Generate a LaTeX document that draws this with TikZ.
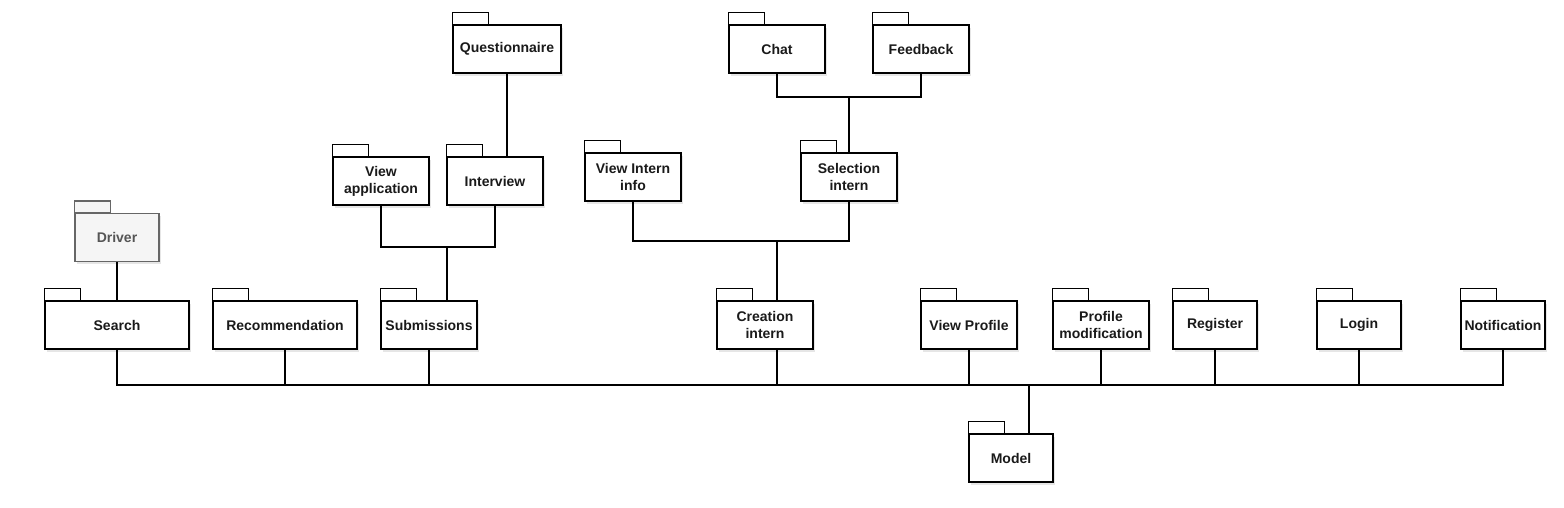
\documentclass[tikz,border=0pt]{standalone}
\usepackage{fontspec}
\setmainfont{Liberation Sans}
\usetikzlibrary{shadows,calc}
\definecolor{txt}{HTML}{1A1A1A}
\definecolor{drvfill}{HTML}{F5F5F5}
\definecolor{drvline}{HTML}{666666}
\definecolor{drvtxt}{HTML}{555555}
\begin{document}
\begin{tikzpicture}[x=1pt,y=-1pt,
  pkg/.style={draw=black, line width=1.1pt, fill=white, minimum height=48pt,
    inner xsep=1pt, inner ysep=2pt, align=center, text=txt,
    font=\bfseries\fontsize{14}{17}\selectfont,
    drop shadow={shadow xshift=2pt, shadow yshift=-2.5pt, opacity=0.2}},
  drv/.style={pkg, draw=drvline, fill=drvfill, text=drvtxt},
  tabbox/.style={draw=black, line width=1.1pt, fill=white},
  drvtab/.style={draw=drvline, line width=1.1pt, fill=drvfill},
  conn/.style={draw=black, line width=1.1pt}]
\useasboundingbox (0,0) rectangle (1564,507);

% packages
\node[drv, minimum width=84pt] (driver) at (117,237.5) {Driver};
\node[pkg, minimum width=144pt] (search) at (117,325) {Search};
\node[pkg, minimum width=144pt] (recommendation) at (285,325) {Recommendation};
\node[pkg, minimum width=96pt] (submissions) at (429,325) {Submissions};
\node[pkg, minimum width=96pt] (creation) at (765,325) {Creation\\intern};
\node[pkg, minimum width=96pt] (viewprofile) at (969,325) {View Profile};
\node[pkg, minimum width=96pt] (profilemod) at (1101,325) {Profile\\modification};
\node[pkg, minimum width=84pt] (register) at (1215,325) {Register};
\node[pkg, minimum width=84pt] (login) at (1359,325) {Login};
\node[pkg, minimum width=84pt] (notification) at (1503,325) {Notification};
\node[pkg, minimum width=84pt] (model) at (1011,458) {Model};
\node[pkg, minimum width=108pt] (questionnaire) at (507,49) {Questionnaire};
\node[pkg, minimum width=96pt] (viewapp) at (381,181) {View\\application};
\node[pkg, minimum width=96pt] (interview) at (495,181) {Interview};
\node[pkg, minimum width=96pt] (viewintern) at (633,177) {View Intern\\info};
\node[pkg, minimum width=96pt] (selection) at (849,177) {Selection\\intern};
\node[pkg, minimum width=96pt] (chat) at (777,49) {Chat};
\node[pkg, minimum width=96pt] (feedback) at (921,49) {Feedback};

% tabs
\draw[drvtab] (driver.north west) rectangle ++(36pt,12pt);
\foreach \n in {search,recommendation,submissions,creation,viewprofile,profilemod,register,login,notification,model,questionnaire,viewapp,interview,viewintern,selection,chat,feedback}
  \draw[tabbox] (\n.north west) rectangle ++(36pt,12pt);

% junction coordinates
\coordinate (busy) at (0,385);
\coordinate (subj) at (447,247);
\coordinate (crj) at (777,241);
\coordinate (selj) at (849,97);

% connectors
\draw[conn] (driver.south) -- (search.north);
\draw[conn] (search.south) -- (search.south |- busy) -| (notification.south);
\draw[conn] (recommendation.south) -- (recommendation.south |- busy);
\draw[conn] (submissions.south) -- (submissions.south |- busy);
\draw[conn] ([xshift=12pt]creation.south) -- ([xshift=12pt]creation.south |- busy);
\draw[conn] (viewprofile.south) -- (viewprofile.south |- busy);
\draw[conn] (profilemod.south) -- (profilemod.south |- busy);
\draw[conn] (register.south) -- (register.south |- busy);
\draw[conn] (login.south) -- (login.south |- busy);
\draw[conn] ([xshift=18pt]model.north) -- ([xshift=18pt]model.north |- busy);

\draw[conn] (viewapp.south) |- (subj) -| (interview.south);
\draw[conn] (subj) -- ([xshift=18pt]submissions.north);
\draw[conn] (questionnaire.south) -- (questionnaire.south |- interview.north);

\draw[conn] (viewintern.south) |- (crj) -| (selection.south);
\draw[conn] (crj) -- ([xshift=12pt]creation.north);

\draw[conn] (chat.south) |- (selj) -| (feedback.south);
\draw[conn] (selj) -- (selection.north);
\end{tikzpicture}
\end{document}
